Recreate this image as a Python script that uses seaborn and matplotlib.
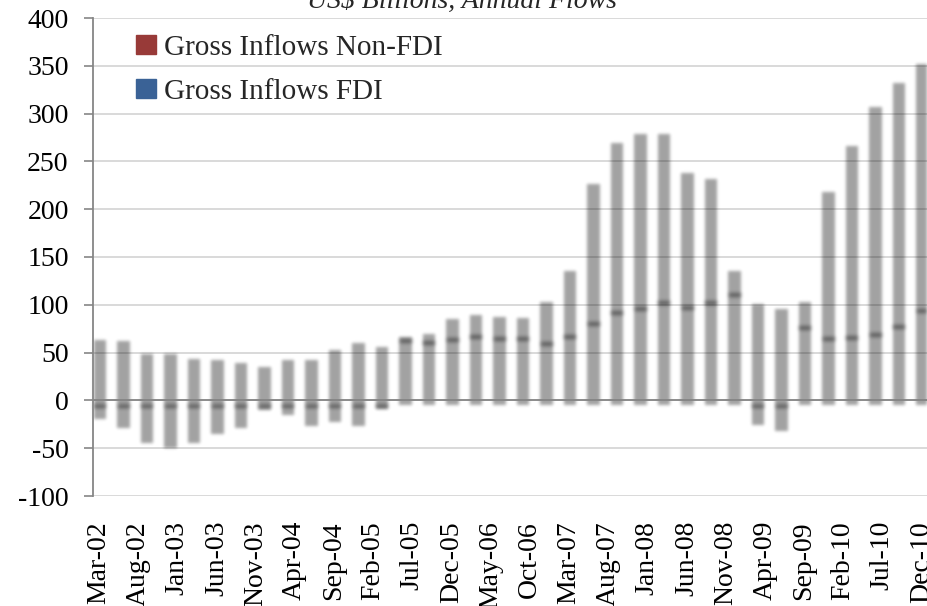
import matplotlib
matplotlib.use("Agg", force=True)
import matplotlib.pyplot as plt
from matplotlib.patches import Patch
import numpy as np
import pandas as pd
import seaborn as sns


# quarterly bars, Mar-02 .. Dec-10
QUARTERS = list(pd.date_range("2002-03-01", "2010-12-01", freq="3MS").strftime("%b-%y"))
FDI = [68, 67, 54, 54, 49, 47, 44, 40, 48, 47, 58, 65, 61, 68, 66, 69, 73, 71,
       70, 65, 73, 86, 98, 102, 108, 103, 108, 117, 106, 101, 82, 70, 72, 75, 83, 100]
NON_FDI = [-14, -24, -39, -45, -39, -30, -24, -5, -10, -22, -17, -22, -4, 4, 9, 21, 22, 21,
           21, 43, 68, 146, 176, 182, 176, 140, 129, 24, -20, -27, 26, 153, 199, 237, 254, 257]
# the category axis is labelled every five months
TICK_LABELS = ["Mar-02", "Aug-02", "Jan-03", "Jun-03", "Nov-03", "Apr-04", "Sep-04", "Feb-05",
               "Jul-05", "Dec-05", "May-06", "Oct-06", "Mar-07", "Aug-07", "Jan-08", "Jun-08",
               "Nov-08", "Apr-09", "Sep-09", "Feb-10", "Jul-10", "Dec-10"]
SERIES = ["Gross Inflows Non-FDI", "Gross Inflows FDI"]
SERIES_COLORS = ["#983a38", "#3a6296"]

AXIS_GREY = "#868686"
GRID_GREY = "#d9d9d9"
SERIF = ["Liberation Serif", "DejaVu Serif"]


def _smooth(a, kernel, axis):
    r = len(kernel) // 2
    a = np.moveaxis(a, axis, 0)
    padded = np.pad(a, [(r, r)] + [(0, 0)] * (a.ndim - 1))
    out = sum(w * padded[i:i + a.shape[0]] for i, w in enumerate(kernel))
    return np.moveaxis(out, 0, axis)


def make_shadow(sigma=1.6, dy=5):
    # soft drop shadow: blur the alpha channel and shift it down a few pixels
    def shadow_filter(im, dpi):
        pad = int(3 * sigma) + 2
        kernel = np.exp(-0.5 * (np.arange(-pad + 2, pad - 1) / sigma) ** 2)
        kernel /= kernel.sum()
        alpha = np.pad(im[..., 3], pad)
        alpha = _smooth(_smooth(alpha, kernel, 0), kernel, 1)
        out = np.zeros(alpha.shape + (4,))
        out[..., 3] = np.clip(alpha, 0, 1)
        return out, -pad, -pad - dy
    return shadow_filter


def main() -> None:
    frame = pd.DataFrame({"quarter": QUARTERS, "fdi": FDI, "non_fdi": NON_FDI})
    # Excel-style stacking: positive parts pile up, negative parts hang below zero
    frame["upper"] = frame["fdi"] + frame["non_fdi"].clip(lower=0)
    frame["lower"] = frame["non_fdi"].clip(upper=0)
    frame["seam"] = np.where(frame["non_fdi"] > 0, frame["fdi"], 0)

    sns.set_style("white")
    plt.rcParams["font.family"] = SERIF
    plt.rcParams["axes.unicode_minus"] = False

    fig = plt.figure(figsize=(9.28, 6.06), dpi=100)
    ax = fig.add_axes([93 / 928, 110 / 606, 835 / 928, 478 / 606])

    for col in ["upper", "lower"]:
        sns.barplot(data=frame, x="quarter", y=col, order=QUARTERS, color="black",
                    saturation=1, alpha=0.37, width=0.53, linewidth=0, ax=ax)
    seam_marker = [(-1, -0.36), (1, -0.36), (1, 0.36), (-1, 0.36), (-1, -0.36)]
    sns.scatterplot(x=frame.index, y=frame["seam"], marker=seam_marker, s=85,
                    color="black", alpha=0.45, linewidth=0, ax=ax, legend=False)
    bar_shadow = make_shadow(dy=5)
    for patch in ax.patches:
        patch.set_agg_filter(bar_shadow)
    ax.collections[-1].set_agg_filter(make_shadow(sigma=1.4, dy=3))

    ax.set_xlim(-0.225, 35.23)
    ax.set_ylim(-100, 400)
    ax.set_yticks(range(-100, 401, 50))
    ax.set_xlabel("")
    ax.set_ylabel("")
    ax.yaxis.grid(True, color=GRID_GREY, linewidth=1.4)
    ax.xaxis.grid(False)
    ax.set_axisbelow(True)

    for side in ["top", "right"]:
        ax.spines[side].set_visible(False)
    ax.spines["left"].set_color(AXIS_GREY)
    ax.spines["left"].set_linewidth(1.3)
    ax.spines["bottom"].set_position(("data", 0))
    ax.spines["bottom"].set_color(AXIS_GREY)
    ax.spines["bottom"].set_linewidth(1.3)

    label_pos = np.arange(len(TICK_LABELS)) * 5 / 3
    ax.set_xticks(label_pos - 0.3)
    ax.tick_params(axis="x", direction="out", length=5, width=1.2, color=AXIS_GREY,
                   labelbottom=False)
    ax.tick_params(axis="y", direction="out", length=6.5, width=1.2, color=AXIS_GREY,
                   pad=11, labelsize=20, labelcolor="black")
    ax.tick_params(axis="y", which="both", left=True)

    sec = ax.secondary_xaxis("bottom")
    sec.set_xticks(label_pos - 0.05, TICK_LABELS, rotation=90)
    sec.tick_params(length=0, pad=18, labelsize=20, labelcolor="black")
    sec.spines["bottom"].set_visible(False)

    handles = [Patch(facecolor=c, edgecolor=c, label=s) for s, c in zip(SERIES, SERIES_COLORS)]
    ax.legend(handles=handles, loc="upper left", bbox_to_anchor=(136 / 928, 1 - 35 / 606),
              bbox_transform=fig.transFigure, frameon=False, fontsize=21,
              handlelength=0.7, handleheight=0.62, handletextpad=0.25,
              labelspacing=0.62, borderpad=0, borderaxespad=0)

    fig.text(462 / 928, 1 - 8 / 606, "US$ Billions, Annual Flows", ha="center",
             va="baseline", fontsize=20, fontstyle="italic", family=SERIF)

    fig.savefig("out.png", dpi=100)
    plt.close(fig)


if __name__ == "__main__":
    main()
